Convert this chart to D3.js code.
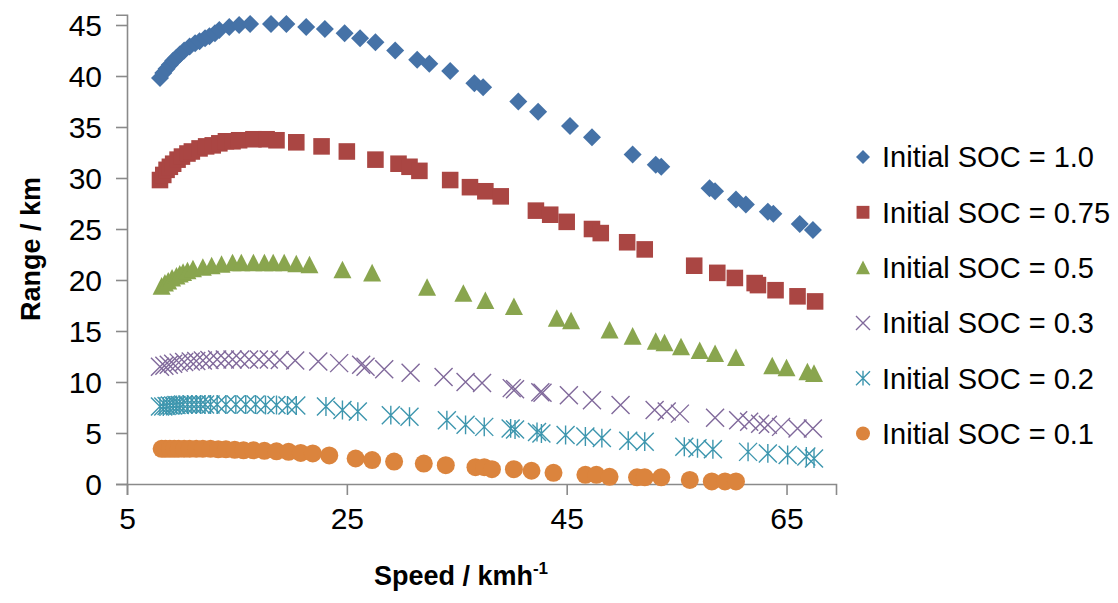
<!DOCTYPE html>
<html><head><meta charset="utf-8">
<script src="https://cdn.jsdelivr.net/npm/d3@7"></script>
<style>
html,body{margin:0;padding:0;background:#fff;}
svg text{font-family:"Liberation Sans","Open Sans",Arial,sans-serif;fill:#000;}
</style></head>
<body>
<svg id="chart" width="1118" height="603"></svg>
<script>
// ---- data ----
const seriesNames = ["Initial SOC = 1.0","Initial SOC = 0.75","Initial SOC = 0.5","Initial SOC = 0.3","Initial SOC = 0.2","Initial SOC = 0.1"];
const seriesColors = ["#4572A7","#AA4643","#89A54E","#80699B","#3D96AE","#DB843D"];
const xTicks = [5,25,45,65];
const yTicks = [0,5,10,15,20,25,30,35,40,45];

const speed10 = [8.0,8.3,8.6,8.9,9.2,9.5,9.8,10.2,10.7,11.2,11.6,12.1,12.5,13.0,13.4,14.3,15.2,16.2,18.1,19.5,21.3,23.0,24.8,26.2,27.6,29.4,31.4,32.5,34.4,36.6,37.4,40.6,42.4,45.3,47.3,51.0,53.1,53.6,58.0,58.5,60.4,61.3,63.3,63.8,66.2,67.4];
const range10 = [39.8,40.3,40.7,41.1,41.5,41.8,42.1,42.5,42.9,43.2,43.4,43.7,43.9,44.2,44.5,44.8,45.0,45.1,45.1,45.1,44.8,44.6,44.2,43.7,43.3,42.5,41.6,41.2,40.5,39.3,38.9,37.5,36.5,35.1,34.0,32.3,31.3,31.1,29.0,28.7,27.9,27.4,26.7,26.5,25.5,24.9];

const speed075 = [8.0,8.3,8.6,8.9,9.2,9.6,10.0,10.5,10.9,11.6,12.2,12.8,13.4,14.0,14.6,15.2,16.5,17.7,18.6,20.4,22.7,25.0,27.6,29.7,30.7,31.6,34.4,36.2,37.6,39.0,42.2,43.5,45.0,47.3,48.1,50.5,52.1,56.6,58.7,60.3,62.1,62.4,64.0,66.0,67.6];
const range075 = [29.8,30.3,30.8,31.1,31.4,31.8,32.1,32.4,32.6,32.9,33.1,33.2,33.4,33.6,33.6,33.7,33.8,33.8,33.7,33.5,33.1,32.6,31.8,31.4,31.1,30.7,29.8,29.1,28.7,28.2,26.8,26.4,25.7,25.0,24.6,23.7,23.0,21.4,20.7,20.2,19.7,19.5,19.0,18.4,17.9];

const speed05 = [8.15,8.45,8.75,9.1,9.5,9.8,10.1,10.5,11.0,11.9,12.7,13.6,14.6,15.4,16.5,17.5,18.3,19.3,20.4,21.6,24.6,27.3,32.3,35.6,37.6,40.2,44.1,45.4,48.9,51.0,53.1,53.9,55.4,57.1,58.5,60.4,63.7,65.0,66.9,67.5];
const range05 = [19.4,19.7,19.9,20.2,20.4,20.6,20.75,20.9,21.1,21.25,21.4,21.55,21.7,21.7,21.7,21.7,21.7,21.7,21.6,21.5,21.0,20.7,19.3,18.7,18.0,17.4,16.25,16.0,15.1,14.5,14.0,13.85,13.45,13.1,12.8,12.4,11.6,11.4,11.0,10.85];

const speed03 = [8.0,8.4,8.8,9.2,9.7,10.2,10.8,11.3,11.9,12.5,13.2,13.9,14.6,15.3,16.1,17.0,17.9,18.9,20.3,22.4,24.3,26.3,26.7,28.4,30.8,33.8,35.8,37.3,40.0,40.3,42.6,42.8,45.2,47.3,49.9,53.0,54.1,55.3,58.5,60.6,61.6,62.6,63.3,64.5,66.0,67.4];
const range03 = [11.5,11.6,11.7,11.8,11.9,11.95,12.0,12.05,12.1,12.15,12.2,12.2,12.2,12.2,12.2,12.2,12.2,12.15,12.1,12.0,11.85,11.7,11.5,11.25,10.9,10.5,10.0,9.9,9.4,9.3,9.0,8.95,8.7,8.2,7.75,7.25,7.1,6.9,6.5,6.25,6.1,5.9,5.8,5.6,5.45,5.45];

const speed02 = [8.0,8.3,8.6,8.9,9.2,9.5,9.8,10.1,10.5,10.9,11.3,11.7,12.1,12.6,13.2,14.0,14.9,15.8,16.7,17.6,18.6,19.6,20.4,23.1,24.6,26.0,29.0,30.7,34.1,35.8,37.5,39.9,40.3,42.3,42.7,44.9,46.7,48.2,50.6,52.1,55.7,56.9,58.3,61.5,63.3,65.1,66.8,67.5];
const range02 = [7.6,7.6,7.65,7.7,7.7,7.75,7.75,7.8,7.8,7.8,7.8,7.8,7.8,7.8,7.8,7.8,7.8,7.8,7.8,7.75,7.75,7.7,7.7,7.6,7.25,7.1,6.75,6.6,6.25,5.8,5.6,5.45,5.35,5.1,4.95,4.8,4.65,4.5,4.25,4.15,3.65,3.5,3.4,3.15,3.0,2.85,2.7,2.5];

const speed01 = [8.15,8.5,8.9,9.3,9.7,10.2,10.7,11.3,11.9,12.6,13.3,14.0,14.8,15.6,16.5,17.5,18.6,19.7,20.8,21.9,23.4,25.8,27.3,29.3,32.0,34.0,36.7,37.5,38.2,40.2,41.8,43.8,46.7,47.7,48.9,51.4,52.1,53.6,56.2,58.2,59.4,60.4];
const range01 = [3.45,3.45,3.45,3.45,3.45,3.45,3.45,3.45,3.45,3.45,3.4,3.4,3.35,3.3,3.3,3.25,3.2,3.15,3.05,3.0,2.8,2.5,2.35,2.2,2.0,1.85,1.65,1.65,1.45,1.45,1.3,1.1,0.9,0.9,0.7,0.65,0.65,0.65,0.4,0.25,0.25,0.25];

const seriesSpeeds = [speed10,speed075,speed05,speed03,speed02,speed01];
const seriesRanges = [range10,range075,range05,range03,range02,range01];
const markerTypes = ["diamond","square","triangle","x","star","circle"];

// ---- layout ----
const svg = d3.select("#chart");
const x = d3.scaleLinear().domain([5,69.5]).range([127,836]);
const y = d3.scaleLinear().domain([0,46]).range([484,14.8]);
const axisColor = "#8a8a8a";

function drawMarker(g, type, color, s) {
  if (type === "diamond") {
    g.append("path").attr("d",`M0,${-s}L${s},0L0,${s}L${-s},0Z`).attr("fill",color);
  } else if (type === "square") {
    g.append("rect").attr("x",-s*0.92).attr("y",-s*0.92).attr("width",s*1.84).attr("height",s*1.84).attr("fill",color);
  } else if (type === "triangle") {
    g.append("path").attr("d",`M0,${-s}L${s},${s*0.95}L${-s},${s*0.95}Z`).attr("fill",color);
  } else if (type === "x") {
    g.append("path").attr("d",`M${-s},${-s}L${s},${s}M${s},${-s}L${-s},${s}`).attr("stroke",color).attr("stroke-width",1.4).attr("fill","none");
  } else if (type === "star") {
    g.append("path").attr("d",`M${-s},${-s}L${s},${s}M${s},${-s}L${-s},${s}M0,${-s*1.05}L0,${s*1.05}`).attr("stroke",color).attr("stroke-width",1.4).attr("fill","none");
  } else if (type === "circle") {
    g.append("circle").attr("r",s).attr("fill",color);
  }
}

// axes
const yAxis = d3.axisLeft(y).tickValues(yTicks).tickSize(11).tickPadding(14);
const gy = svg.append("g").attr("transform",`translate(${x(5)},0)`).call(yAxis);
gy.select(".domain").attr("stroke",axisColor).attr("stroke-width",1.6);
gy.selectAll(".tick line").attr("stroke",axisColor).attr("stroke-width",1.6);
gy.selectAll(".tick text").attr("font-size",30).attr("fill","#000").attr("dy","0.35em");

const xAxis = d3.axisBottom(x).tickValues(xTicks).tickSize(11).tickPadding(13);
const gx = svg.append("g").attr("transform",`translate(0,${y(0)})`).call(xAxis);
gx.select(".domain").attr("stroke",axisColor).attr("stroke-width",1.6);
gx.selectAll(".tick line").attr("stroke",axisColor).attr("stroke-width",1.6);
gx.selectAll(".tick text").attr("font-size",30).attr("fill","#000");

// series
const plot = svg.append("g");
seriesSpeeds.forEach((sp,i)=>{
  const rg = seriesRanges[i];
  const g = plot.append("g").attr("class","series s"+i);
  sp.forEach((v,j)=>{
    const m = g.append("g").attr("transform",`translate(${x(v)},${y(rg[j])})`);
    drawMarker(m, markerTypes[i], seriesColors[i], 9);
  });
});

// axis titles
svg.append("text").attr("x",461).attr("y",585).attr("text-anchor","middle")
  .attr("font-size",27).attr("font-weight","bold").text("Speed / kmh")
  .append("tspan").attr("dy",-11).attr("font-size",17).text("-1");
svg.append("text").attr("transform","translate(40,249) rotate(-90)").attr("text-anchor","middle")
  .attr("font-size",27).attr("font-weight","bold").text("Range / km");

// legend
const legend = svg.append("g");
seriesNames.forEach((n,i)=>{
  const cy = 157 + i*55.3;
  const m = legend.append("g").attr("transform",`translate(863,${cy})`);
  drawMarker(m, markerTypes[i], seriesColors[i], 7);
  legend.append("text").attr("x",882).attr("y",cy).attr("dy","0.36em").attr("font-size",29).text(n);
});
</script>
</body></html>
